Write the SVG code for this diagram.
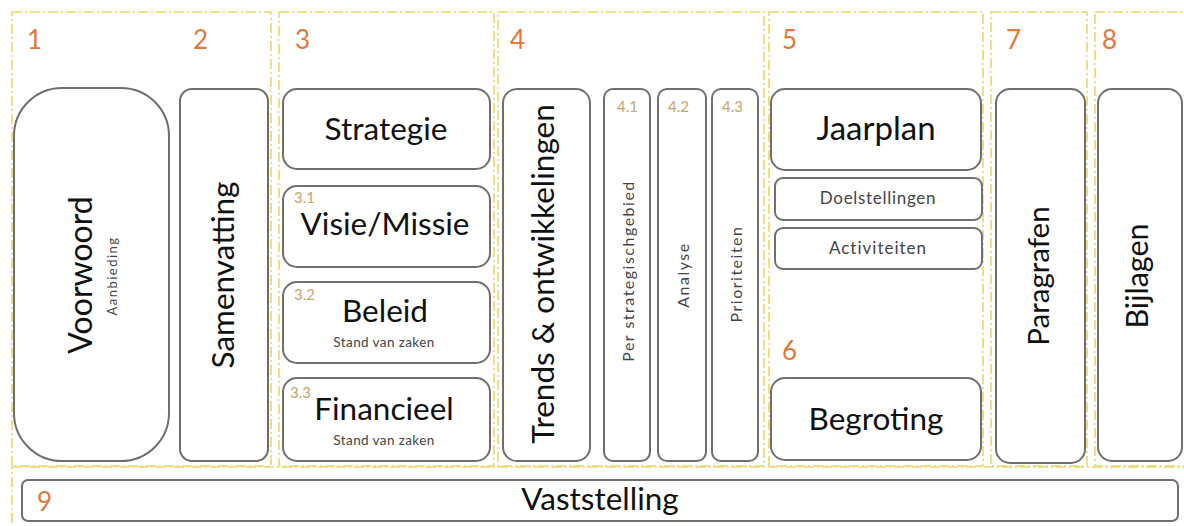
<svg xmlns="http://www.w3.org/2000/svg" width="1184" height="526" viewBox="0 0 1184 526">
<style>
.sec{fill:none;stroke:#E6D96A;stroke-width:1.6;stroke-dasharray:10 3 2 3}
.box{fill:#fff;stroke:#6f6f6f;stroke-width:2}
.t{font-family:Lato,"Open Sans",sans-serif;fill:#111;text-anchor:middle;font-size:31.5px}
.s{font-family:Lato,"Open Sans",sans-serif;fill:#444;text-anchor:middle}
.v{font-size:16px;letter-spacing:1.5px}
.num{font-family:Lato,"Open Sans",sans-serif;fill:#E2773A;font-size:26px}
.sub{font-family:Lato,"Open Sans",sans-serif;fill:#C9A36E;font-size:15px}
</style>
<rect width="1184" height="526" fill="#fff"/>
<g id="sections">
<rect class="sec" x="12" y="12" width="259" height="454"/>
<rect class="sec" x="279" y="12" width="215" height="454"/>
<rect class="sec" x="498" y="12" width="266" height="454"/>
<rect class="sec" x="769" y="12" width="214" height="454"/>
<rect class="sec" x="991" y="12" width="96" height="454"/>
<rect class="sec" x="1095" y="12" width="110" height="454"/>
<rect class="sec" x="12" y="467" width="1190" height="80"/>
<text class="num" x="27" y="49">1</text>
<text class="num" x="193" y="49">2</text>
<text class="num" x="295" y="49">3</text>
<text class="num" x="510" y="49">4</text>
<text class="num" x="782" y="49">5</text>
<text class="num" x="782" y="360">6</text>
<text class="num" x="1006" y="49">7</text>
<text class="num" x="1102" y="49">8</text>
</g>
<g id="connectors"/>
<g id="voorwoord">
<rect class="box" x="14" y="88" width="155" height="373" rx="48"/>
<text class="t" style="font-size:32px" transform="translate(92,275) rotate(-90)">Voorwoord</text>
<text class="s" font-size="13" letter-spacing="1.5" transform="translate(117,276) rotate(-90)">Aanbieding</text>
</g>
<g id="samenvatting">
<rect class="box" x="180" y="89" width="88" height="372" rx="12"/>
<text class="t" transform="translate(234,275) rotate(-90)">Samenvatting</text>
</g>
<g id="strategie">
<rect class="box" x="283" y="89" width="207" height="80" rx="14"/>
<text class="t" x="386" y="140">Strategie</text>
</g>
<g id="visie">
<rect class="box" x="283" y="186" width="207" height="81" rx="14"/>
<text class="sub" x="294" y="203">3.1</text>
<text class="t" x="385" y="235">Visie/Missie</text>
</g>
<g id="beleid">
<rect class="box" x="283" y="282" width="207" height="81" rx="14"/>
<text class="sub" x="294" y="300">3.2</text>
<text class="t" x="385" y="322">Beleid</text>
<text class="s" font-size="13.5" letter-spacing="0.4" x="384" y="347">Stand van zaken</text>
</g>
<g id="financieel">
<rect class="box" x="283" y="378" width="207" height="83" rx="14"/>
<text class="sub" x="290" y="398">3.3</text>
<text class="t" x="384" y="420">Financieel</text>
<text class="s" font-size="13.5" letter-spacing="0.4" x="384" y="445">Stand van zaken</text>
</g>
<g id="trends">
<rect class="box" x="503" y="89" width="87" height="372" rx="14"/>
<text class="t" transform="translate(554,274) rotate(-90)">Trends &amp; ontwikkelingen</text>
</g>
<g id="per-strategisch">
<rect class="box" x="604" y="89" width="46" height="372" rx="9"/>
<text class="sub" x="617" y="112">4.1</text>
<text class="s v" transform="translate(634,271) rotate(-90)">Per strategischgebied</text>
</g>
<g id="analyse">
<rect class="box" x="658" y="89" width="48" height="372" rx="9"/>
<text class="sub" x="668" y="112">4.2</text>
<text class="s v" transform="translate(689,275) rotate(-90)">Analyse</text>
</g>
<g id="prioriteiten">
<rect class="box" x="712" y="89" width="46" height="372" rx="9"/>
<text class="sub" x="722" y="112">4.3</text>
<text class="s v" transform="translate(742,274) rotate(-90)">Prioriteiten</text>
</g>
<g id="jaarplan">
<rect class="box" x="771" y="89" width="210" height="81" rx="14"/>
<text class="t" style="font-size:33px" x="876" y="140">Jaarplan</text>
</g>
<g id="doelstellingen">
<rect class="box" x="775" y="178" width="207" height="42" rx="8"/>
<text class="s" font-size="17" letter-spacing="0.7" x="878" y="204">Doelstellingen</text>
</g>
<g id="activiteiten">
<rect class="box" x="775" y="228" width="207" height="41" rx="8"/>
<text class="s" font-size="17" letter-spacing="1" x="878" y="254">Activiteiten</text>
</g>
<g id="begroting">
<rect class="box" x="771" y="378" width="210" height="82" rx="14"/>
<text class="t" x="876" y="430">Begroting</text>
</g>
<g id="paragrafen">
<rect class="box" x="996" y="89" width="89" height="374" rx="14"/>
<text class="t" style="font-size:29.5px" transform="translate(1049,276) rotate(-90)">Paragrafen</text>
</g>
<g id="bijlagen">
<rect class="box" x="1098" y="89" width="84" height="372" rx="14"/>
<text class="t" style="font-size:30.5px" transform="translate(1148,276) rotate(-90)">Bijlagen</text>
</g>
<g id="vaststelling">
<rect class="box" x="22" y="480" width="1156" height="41" rx="6"/>
<text class="num" x="37" y="511">9</text>
<text class="t" x="600" y="510">Vaststelling</text>
</g>
</svg>
